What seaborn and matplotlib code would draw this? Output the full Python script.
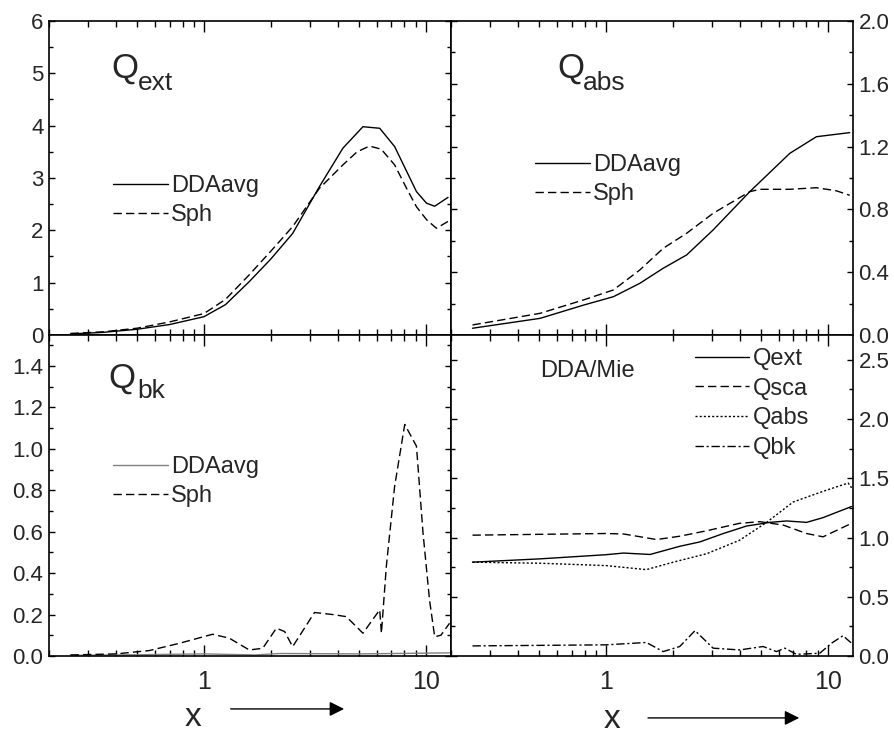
import matplotlib
matplotlib.use("Agg")
import matplotlib.pyplot as plt
import seaborn as sns
from matplotlib.ticker import FixedLocator, LogLocator, MultipleLocator, FormatStrFormatter, NullFormatter

sns.set_style("white")
plt.rcParams['font.family'] = ['Liberation Sans', 'DejaVu Sans']

# Q_ext panel
ext_dda_x = [0.25, 0.35, 0.5, 0.7, 1.0, 1.25, 1.6, 2.0, 2.51, 3.31, 4.23, 5.21, 6.2, 7.24, 9.08, 10.07, 10.97, 12.6]
ext_dda_y = [0.02, 0.05, 0.11, 0.2, 0.35, 0.58, 1.02, 1.45, 1.94, 2.83, 3.57, 3.98, 3.95, 3.6, 2.74, 2.52, 2.46, 2.63]
ext_sph_x = [0.25, 0.35, 0.5, 0.7, 1.0, 1.25, 1.6, 2.0, 2.51, 3.31, 4.23, 4.9, 5.58, 6.3, 7.24, 8.2, 9.08, 10.1, 11.17, 12.6]
ext_sph_y = [0.03, 0.06, 0.13, 0.25, 0.41, 0.68, 1.15, 1.6, 2.07, 2.8, 3.25, 3.5, 3.61, 3.55, 3.25, 2.8, 2.45, 2.2, 2.04, 2.17]

# Q_abs panel
abs_dda_x = [0.25, 0.504, 0.79, 1.08, 1.42, 1.81, 2.31, 3.04, 4.45, 6.74, 8.89, 12.56]
abs_dda_y = [0.043, 0.106, 0.19, 0.244, 0.329, 0.425, 0.51, 0.669, 0.913, 1.157, 1.263, 1.289]
abs_sph_x = [0.25, 0.504, 0.79, 1.08, 1.42, 1.81, 2.31, 3.04, 4.45, 4.94, 6.74, 8.89, 10.9, 12.56]
abs_sph_y = [0.064, 0.138, 0.223, 0.287, 0.414, 0.552, 0.648, 0.775, 0.913, 0.928, 0.928, 0.938, 0.919, 0.89]

# Q_bk panel
bk_dda_x = [0.25, 0.5, 1.0, 1.7, 2.2, 5.0, 12.8]
bk_dda_y = [0.003, 0.006, 0.01, 0.005, 0.012, 0.01, 0.015]
bk_sph_x = [0.25, 0.4, 0.566, 0.773, 1.094, 1.3, 1.6, 1.84, 2.12, 2.31, 2.51, 3.15, 3.81, 4.38, 5.21, 6.2, 6.31,
            6.64, 7.24, 8.04, 9.08, 9.72, 10.4, 10.97, 11.7, 12.8]
bk_sph_y = [0.005, 0.01, 0.026, 0.061, 0.105, 0.086, 0.029, 0.037, 0.134, 0.118, 0.045, 0.21, 0.2, 0.19, 0.11, 0.223, 0.11,
            0.432, 0.82, 1.118, 1.013, 0.594, 0.27, 0.093, 0.1, 0.158]

# DDA/Mie ratio panel
r_ext_x = [0.25, 0.504, 1.0, 1.2, 1.58, 2.15, 2.65, 3.38, 4.3, 5.48, 6.52, 8.02, 9.52, 12.8]
r_ext_y = [0.792, 0.82, 0.855, 0.869, 0.857, 0.926, 0.963, 1.034, 1.097, 1.128, 1.14, 1.128, 1.168, 1.262]
r_sca_x = [0.25, 1.0, 1.2, 1.69, 2.15, 2.84, 4.0, 4.94, 6.3, 8.02, 9.52, 12.8]
r_sca_y = [1.02, 1.034, 1.03, 0.983, 1.011, 1.057, 1.12, 1.134, 1.105, 1.034, 1.006, 1.12]
r_abs_x = [0.25, 0.504, 1.0, 1.52, 2.01, 2.84, 4.0, 5.3, 6.98, 9.52, 12.35, 12.8]
r_abs_y = [0.792, 0.783, 0.763, 0.729, 0.792, 0.863, 0.977, 1.128, 1.3, 1.39, 1.46, 1.42]
r_bk_x = [0.25, 1.0, 1.52, 1.81, 2.15, 2.52, 3.04, 4.0, 5.11, 5.87, 6.4, 7.22, 9.2, 10.4, 11.7, 12.8]
r_bk_y = [0.085, 0.094, 0.114, 0.037, 0.08, 0.214, 0.066, 0.051, 0.08, 0.037, 0.066, 0.014, 0.023, 0.108, 0.171, 0.108]

SOLID = '-'
DASH = (0, (6, 3))
DOT = (0, (1.5, 1.5))
DASHDOT = (0, (6, 2, 1.5, 2))

fig = plt.figure(figsize=(8.94, 7.34), dpi=100)
ax_ext = fig.add_axes([0.0548, 0.5436, 0.4497, 0.4278])
ax_abs = fig.add_axes([0.5045, 0.5436, 0.4497, 0.4278])
ax_bk = fig.add_axes([0.0548, 0.1063, 0.4497, 0.4373])
ax_rat = fig.add_axes([0.5045, 0.1063, 0.4497, 0.4373])


def style_axis(ax, ymax, major, minor, fmt, right=False, xlabels=False):
    ax.set_xscale('log')
    ax.set_xlim(0.2, 13)
    ax.set_ylim(0, ymax)
    ax.xaxis.set_major_locator(FixedLocator([1, 10]))
    ax.xaxis.set_minor_locator(LogLocator(base=10, subs=range(2, 10)))
    ax.xaxis.set_major_formatter(FormatStrFormatter('%g'))
    ax.xaxis.set_minor_formatter(NullFormatter())
    ax.yaxis.set_major_locator(MultipleLocator(major))
    ax.yaxis.set_minor_locator(MultipleLocator(minor))
    ax.yaxis.set_major_formatter(FormatStrFormatter(fmt))
    ax.tick_params(axis='x', which='both', direction='in', top=True, bottom=True,
                   labelbottom=xlabels, labelsize=18, pad=10, width=1.0, color='black')
    ax.tick_params(axis='x', which='major', length=8)
    ax.tick_params(axis='x', which='minor', length=4)
    ax.tick_params(axis='y', which='both', direction='in', left=True, right=True,
                   labelleft=not right, labelright=right, labelsize=16, pad=4, width=1.0, color='black')
    ax.tick_params(axis='y', which='major', length=4.5)
    ax.tick_params(axis='y', which='minor', length=3)
    for sp in ax.spines.values():
        sp.set_linewidth(1.2)
        sp.set_color('black')
    ax.set_xlabel('')
    ax.set_ylabel('')


def add_legend(ax, anchor, spacing=0.3):
    ax.legend(loc='upper left', bbox_to_anchor=anchor, frameon=False, fontsize=17,
              handlelength=2.3, handletextpad=0.15, labelspacing=spacing,
              borderpad=0, borderaxespad=0)


def panel_label(ax, sub, xq, yq, xs, ys):
    ax.text(xq, yq, 'Q', transform=ax.transAxes, fontsize=25, va='baseline')
    ax.text(xs, ys, sub, transform=ax.transAxes, fontsize=19, va='baseline')


# top left: Q_ext
sns.lineplot(x=ext_dda_x, y=ext_dda_y, ax=ax_ext, color='black', lw=1.0, linestyle=SOLID, label='DDAavg')
sns.lineplot(x=ext_sph_x, y=ext_sph_y, ax=ax_ext, color='black', lw=1.0, linestyle=DASH, label='Sph')
style_axis(ax_ext, 6, 1, 0.5, '%d')
add_legend(ax_ext, (0.16, 0.51))
panel_label(ax_ext, 'ext', 0.154, 0.818, 0.221, 0.780)

# top right: Q_abs
sns.lineplot(x=abs_dda_x, y=abs_dda_y, ax=ax_abs, color='black', lw=1.0, linestyle=SOLID, label='DDAavg')
sns.lineplot(x=abs_sph_x, y=abs_sph_y, ax=ax_abs, color='black', lw=1.0, linestyle=DASH, label='Sph')
style_axis(ax_abs, 2.0, 0.4, 0.2, '%.1f', right=True)
add_legend(ax_abs, (0.21, 0.576))
panel_label(ax_abs, 'abs', 0.264, 0.818, 0.328, 0.780)

# bottom left: Q_bk
sns.lineplot(x=bk_dda_x, y=bk_dda_y, ax=ax_bk, color='#808080', lw=1.0, linestyle=SOLID, label='DDAavg')
sns.lineplot(x=bk_sph_x, y=bk_sph_y, ax=ax_bk, color='black', lw=1.0, linestyle=DASH, label='Sph')
style_axis(ax_bk, 1.55, 0.2, 0.1, '%.1f', xlabels=True)
add_legend(ax_bk, (0.16, 0.623))
panel_label(ax_bk, 'bk', 0.147, 0.835, 0.219, 0.804)

# bottom right: DDA/Mie ratios
sns.lineplot(x=r_ext_x, y=r_ext_y, ax=ax_rat, color='black', lw=1.0, linestyle=SOLID, label='Qext')
sns.lineplot(x=r_sca_x, y=r_sca_y, ax=ax_rat, color='black', lw=1.0, linestyle=DASH, label='Qsca')
sns.lineplot(x=r_abs_x, y=r_abs_y, ax=ax_rat, color='black', lw=1.0, linestyle=DOT, label='Qabs')
sns.lineplot(x=r_bk_x, y=r_bk_y, ax=ax_rat, color='black', lw=1.0, linestyle=DASHDOT, label='Qbk')
style_axis(ax_rat, 2.71, 0.5, 0.25, '%.1f', right=True, xlabels=True)
add_legend(ax_rat, (0.607, 0.96), spacing=0.33)
ax_rat.text(0.221, 0.869, 'DDA/Mie', transform=ax_rat.transAxes, fontsize=17, va='baseline')

# x labels with arrows
for ax, xt, yt, x0, x1, ya in [(ax_bk, 0.358, -0.218, 0.445, 0.741, -0.165),
                               (ax_rat, 0.40, -0.224, 0.483, 0.873, -0.193)]:
    ax.text(xt, yt, 'x', transform=ax.transAxes, fontsize=24, ha='center', va='baseline')
    ax.annotate('', xy=(x1, ya), xytext=(x0, ya), xycoords='axes fraction', annotation_clip=False,
                arrowprops=dict(arrowstyle='-|>', color='black', lw=1.0, mutation_scale=22))

fig.savefig('out.png', dpi=100)
